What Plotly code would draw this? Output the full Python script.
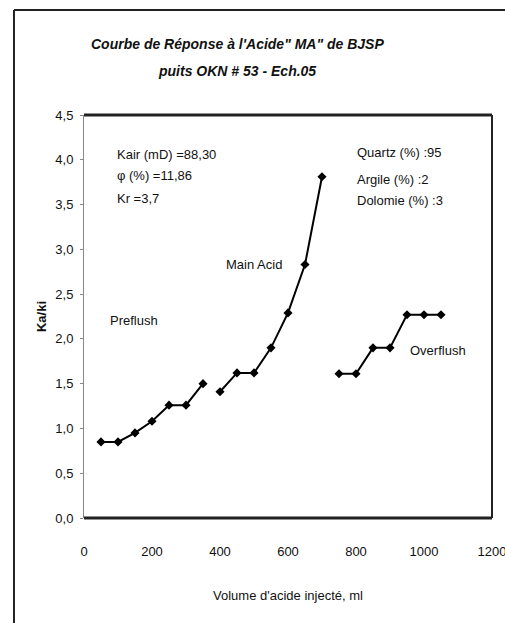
import plotly.graph_objects as go

# Data
pre_x = [50, 100, 150, 200, 250, 300, 350]
pre_y = [0.85, 0.85, 0.95, 1.08, 1.26, 1.26, 1.50]
main_x = [400, 450, 500, 550, 600, 650, 700]
main_y = [1.41, 1.62, 1.62, 1.90, 2.29, 2.83, 3.81]
over_x = [750, 800, 850, 900, 950, 1000, 1050]
over_y = [1.61, 1.61, 1.90, 1.90, 2.27, 2.27, 2.27]

x_ticks = [0, 200, 400, 600, 800, 1000, 1200]
y_ticks = [0.0, 0.5, 1.0, 1.5, 2.0, 2.5, 3.0, 3.5, 4.0, 4.5]
y_tick_text = [f"{v:.1f}".replace(".", ",") for v in y_ticks]

FONT = "Liberation Sans, Arial, sans-serif"

fig = go.Figure()
for xs, ys in [(pre_x, pre_y), (main_x, main_y), (over_x, over_y)]:
    fig.add_trace(go.Scatter(
        x=xs, y=ys, mode="lines+markers",
        line=dict(color="black", width=2),
        marker=dict(symbol="diamond", size=7, color="black"),
        showlegend=False,
    ))

fig.update_layout(
    width=505, height=623,
    margin=dict(l=84, r=13, t=115, b=105, autoexpand=False),
    paper_bgcolor="white", plot_bgcolor="white",
    font=dict(family=FONT, color="#111", size=13),
    xaxis=dict(
        range=[0, 1200], tickvals=x_ticks, ticktext=[str(v) for v in x_ticks],
        showgrid=False, zeroline=False, ticks="", ticklen=0,
        showline=False, tickfont=dict(size=13), ticklabelstandoff=24,
        ticklabeloverflow="allow", automargin=False,
        title=dict(text="Volume d'acide injecté, ml", font=dict(size=13), standoff=32),
    ),
    yaxis=dict(
        range=[0, 4.5], tickvals=y_ticks, ticktext=y_tick_text,
        showgrid=False, zeroline=False, ticks="outside", ticklen=3,
        tickcolor="#888", showline=True, linecolor="#888", linewidth=1,
        tickfont=dict(size=13), ticklabelstandoff=4, automargin=False,
        title=dict(text="<b>Ka/ki</b>", font=dict(size=13), standoff=5),
    ),
)

# plot frame: thick top and bottom, thin right
fig.add_shape(type="line", xref="paper", yref="paper", x0=0, x1=1, y0=1, y1=1,
              line=dict(color="#222", width=3))
fig.add_shape(type="line", xref="paper", yref="paper", x0=0, x1=1, y0=0, y1=0,
              line=dict(color="#222", width=3))
fig.add_shape(type="line", xref="paper", yref="paper", x0=1, x1=1, y0=0, y1=1,
              line=dict(color="#222", width=2))

# outer frame (left and top lines)
fig.add_shape(type="line", xref="paper", yref="paper", x0=-0.1716, x1=1.05, y0=1.2605, y1=1.2605,
              line=dict(color="#222", width=2))
fig.add_shape(type="line", xref="paper", yref="paper", x0=-0.1716, x1=-0.1716, y0=1.2605, y1=-0.27,
              line=dict(color="#222", width=2))

fig.add_annotation(xref="paper", yref="paper", x=0.375, y=1.175, showarrow=False,
                   text="<b><i>Courbe de Réponse à l'Acide\" MA\" de BJSP</i></b>",
                   font=dict(size=14, family=FONT), xanchor="center", yanchor="middle")
fig.add_annotation(xref="paper", yref="paper", x=0.375, y=1.108, showarrow=False,
                   text="<b><i>puits OKN # 53 - Ech.05</i></b>",
                   font=dict(size=14, family=FONT), xanchor="center", yanchor="middle")

def note(x, y, text):
    fig.add_annotation(x=x, y=y, xref="x", yref="y", text=text, showarrow=False,
                       xanchor="left", yanchor="middle", font=dict(size=13, family=FONT))

note(91, 4.06, "Kair (mD) =88,30")
note(91, 3.82, "φ (%) =11,86")
note(91, 3.57, "Kr =3,7")
note(797, 4.08, "Quartz (%) :95")
note(797, 3.78, "Argile (%) :2")
note(797, 3.55, "Dolomie (%) :3")
note(71, 2.20, "Preflush")
note(412, 2.83, "Main Acid")
note(953, 1.87, "Overflush")

fig.write_html(
    "out.html",
    config={"displayModeBar": False},
    post_script="document.body.style.margin='0';document.body.style.overflow='hidden';",
)
